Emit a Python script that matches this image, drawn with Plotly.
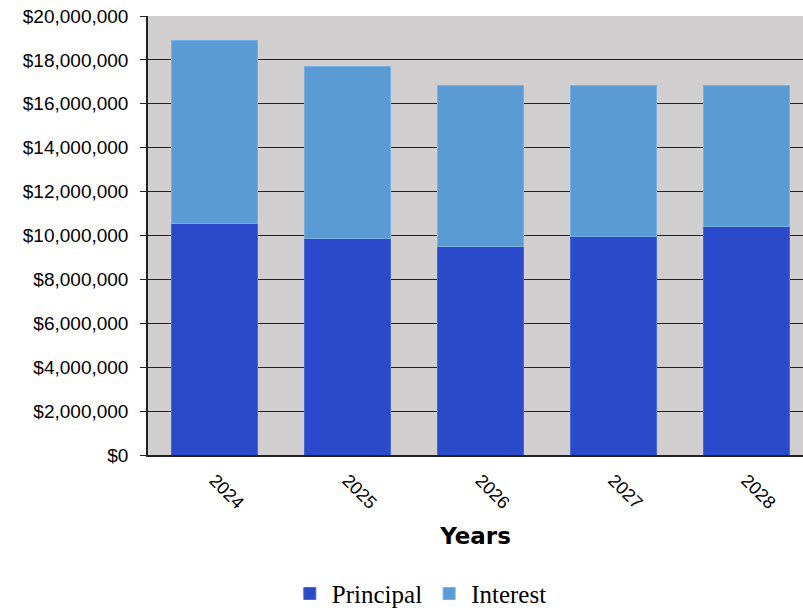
import plotly.graph_objects as go

years = ["2024", "2025", "2026", "2027", "2028"]
principal = [10550000, 9850000, 9520000, 9950000, 10420000]
interest = [8330000, 7850000, 7330000, 6900000, 6430000]
y_ticks = [0, 2000000, 4000000, 6000000, 8000000, 10000000, 12000000, 14000000, 16000000, 18000000, 20000000]
y_tick_text = ["$0", "$2,000,000", "$4,000,000", "$6,000,000", "$8,000,000", "$10,000,000",
               "$12,000,000", "$14,000,000", "$16,000,000", "$18,000,000", "$20,000,000"]

fig = go.Figure()
fig.add_trace(go.Bar(x=years, y=principal, name="Principal",
                     marker=dict(color="#2b4acb", line=dict(color="#4a68d4", width=1))))
fig.add_trace(go.Bar(x=years, y=interest, name="Interest",
                     marker=dict(color="#5b9bd5", line=dict(color="#79aee0", width=1))))

fig.update_layout(
    barmode="stack",
    bargap=0.35,
    width=803, height=611,
    margin=dict(l=148, r=0, t=16, b=156, autoexpand=False),
    paper_bgcolor="white",
    plot_bgcolor="#d0cece",
    showlegend=True,
    legend=dict(orientation="h", x=0.415, xanchor="center", y=-0.316, yanchor="middle",
                font=dict(family="Liberation Serif", size=25, color="black"),
                traceorder="normal", itemwidth=34),
    font=dict(family="Liberation Sans", color="black"),
)
fig.update_xaxes(
    type="category",
    range=[-0.5, 4.425],
    tickangle=45,
    tickfont=dict(family="Liberation Sans", size=18, color="black"),
    showline=True, linecolor="#222", linewidth=1.5,
    ticks="", showgrid=False, automargin=False,
    ticklabelstandoff=6,
    title=dict(text="<b>Years</b>", font=dict(family="DejaVu Sans", size=23, color="black"), standoff=16),
)
fig.update_yaxes(
    range=[0, 20000000],
    tickvals=y_ticks, ticktext=y_tick_text,
    tickfont=dict(family="Liberation Sans", size=19, color="black"),
    showline=True, linecolor="#222", linewidth=1.5,
    ticks="outside", ticklen=6, tickcolor="#222",
    ticklabelstandoff=8, automargin=False,
    showgrid=True, gridcolor="#222", gridwidth=1.2,
    zeroline=False,
)
fig.write_html("out.html")
